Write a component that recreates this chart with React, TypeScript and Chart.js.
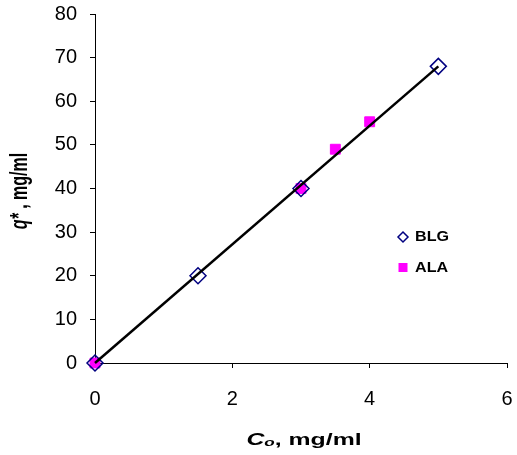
import { useEffect, useRef } from "react";
import { Chart, registerables } from "chart.js";

Chart.register(...registerables);

// Measured uptake data (mg/ml)
const blgX = [0, 1.5, 3, 5];
const blgY = [0, 20, 40, 68];
const alaX = [0, 3, 3.5, 4];
const alaY = [0, 40, 49, 55.3];
// Linear fit through BLG
const fitX = [0, 5];
const fitY = [0, 68];

const seriesNames = ["BLG", "ALA"];
const xMin = 0;
const xMax = 6;
const xStep = 2;
const yMin = 0;
const yMax = 80;
const yStep = 10;

const FONT = "'Liberation Sans', Arial, Helvetica, sans-serif";
const BLG_COLOR = "#000080";
const ALA_COLOR = "#ff00ff";

const toPoints = (xs: number[], ys: number[]) => xs.map((x, i) => ({ x, y: ys[i] }));

type Piece = { text: string; font: string; dy?: number };

function drawPieces(ctx: CanvasRenderingContext2D, pieces: Piece[]) {
  let total = 0;
  for (const p of pieces) {
    ctx.font = p.font;
    total += ctx.measureText(p.text).width;
  }
  let x = -total / 2;
  for (const p of pieces) {
    ctx.font = p.font;
    ctx.fillText(p.text, x, p.dy ?? 0);
    x += ctx.measureText(p.text).width;
  }
}

const annotations = {
  id: "axisTitlesAndKey",
  afterDraw(chart: Chart) {
    const ctx = chart.ctx;
    ctx.save();
    ctx.fillStyle = "#000";
    ctx.textBaseline = "middle";
    ctx.textAlign = "left";

    // y-axis title: q*, mg/ml
    ctx.save();
    ctx.translate(20, 191);
    ctx.scale(1.55, 1);
    ctx.rotate(-Math.PI / 2);
    drawPieces(ctx, [
      { text: "q*", font: `italic bold 16px ${FONT}` },
      { text: " , mg/ml", font: `bold 16px ${FONT}` },
    ]);
    ctx.restore();

    // x-axis title: Co, mg/ml
    ctx.save();
    ctx.translate(304, 441);
    ctx.scale(1.55, 1);
    drawPieces(ctx, [
      { text: "C", font: `italic bold 16px ${FONT}` },
      { text: "o", font: `italic bold 11px ${FONT}`, dy: 2 },
      { text: ", mg/ml", font: `bold 16px ${FONT}` },
    ]);
    ctx.restore();

    // key
    const keyX = 403;
    const keyYs = [237, 267.5];
    ctx.strokeStyle = BLG_COLOR;
    ctx.lineWidth = 1.5;
    ctx.beginPath();
    ctx.moveTo(keyX, keyYs[0] - 5);
    ctx.lineTo(keyX + 5, keyYs[0]);
    ctx.lineTo(keyX, keyYs[0] + 5);
    ctx.lineTo(keyX - 5, keyYs[0]);
    ctx.closePath();
    ctx.stroke();
    ctx.fillStyle = ALA_COLOR;
    ctx.fillRect(keyX - 4.5, keyYs[1] - 4.5, 9, 9);

    ctx.fillStyle = "#000";
    seriesNames.forEach((name, i) => {
      ctx.save();
      ctx.translate(415, keyYs[i] + 0.5);
      ctx.scale(1.15, 1);
      ctx.font = `bold 14px ${FONT}`;
      ctx.fillText(name, 0, 0);
      ctx.restore();
    });

    ctx.restore();
  },
};

export default function App() {
  const canvasRef = useRef<HTMLCanvasElement | null>(null);

  useEffect(() => {
    const canvas = canvasRef.current;
    if (!canvas) return;

    const axisGrid = {
      drawOnChartArea: false,
      drawTicks: true,
      tickLength: 5,
      color: "#000",
      lineWidth: 1,
    };
    const axisBorder = { display: true, color: "#000", width: 1 };

    const chart = new Chart(canvas, {
      type: "scatter",
      data: {
        datasets: [
          {
            label: "fit",
            data: toPoints(fitX, fitY),
            showLine: true,
            borderColor: "#000",
            borderWidth: 2.5,
            pointRadius: 0,
            pointHoverRadius: 0,
            fill: false,
            clip: false,
            order: 0,
          },
          {
            label: seriesNames[0],
            data: toPoints(blgX, blgY),
            pointStyle: "rectRot",
            pointRadius: 8,
            pointBorderWidth: 1.5,
            pointBorderColor: BLG_COLOR,
            pointBackgroundColor: "rgba(255,255,255,0)",
            borderColor: BLG_COLOR,
            backgroundColor: "rgba(255,255,255,0)",
            clip: false,
            order: 1,
          },
          {
            label: seriesNames[1],
            data: toPoints(alaX, alaY),
            pointStyle: "rect",
            pointRadius: 7,
            pointBorderWidth: 1,
            pointBorderColor: ALA_COLOR,
            pointBackgroundColor: ALA_COLOR,
            borderColor: ALA_COLOR,
            backgroundColor: ALA_COLOR,
            clip: false,
            order: 2,
          },
        ],
      },
      options: {
        animation: false,
        responsive: true,
        maintainAspectRatio: false,
        layout: { padding: { top: 14, right: 10, left: 0, bottom: 0 } },
        plugins: {
          legend: { display: false },
          tooltip: { enabled: false },
          title: { display: false },
        },
        scales: {
          x: {
            type: "linear",
            min: xMin,
            max: xMax,
            grid: axisGrid,
            border: axisBorder,
            ticks: {
              stepSize: xStep,
              padding: 19,
              color: "#000",
              font: { family: FONT, size: 20 },
              maxRotation: 0,
            },
            afterFit: (s: any) => {
              s.height = 92;
              s.paddingLeft = 0;
              s.paddingRight = 0;
            },
          },
          y: {
            type: "linear",
            min: yMin,
            max: yMax,
            grid: axisGrid,
            border: axisBorder,
            ticks: {
              stepSize: yStep,
              padding: 13,
              color: "#000",
              font: { family: FONT, size: 20 },
            },
            afterFit: (s: any) => {
              s.width = 95;
              s.paddingTop = 0;
              s.paddingBottom = 0;
            },
          },
        },
      },
      plugins: [annotations],
    });

    return () => chart.destroy();
  }, []);

  return (
    <div style={{ position: "fixed", left: 0, top: 0, width: 517, height: 455, background: "#fff" }}>
      <canvas ref={canvasRef} />
    </div>
  );
}
